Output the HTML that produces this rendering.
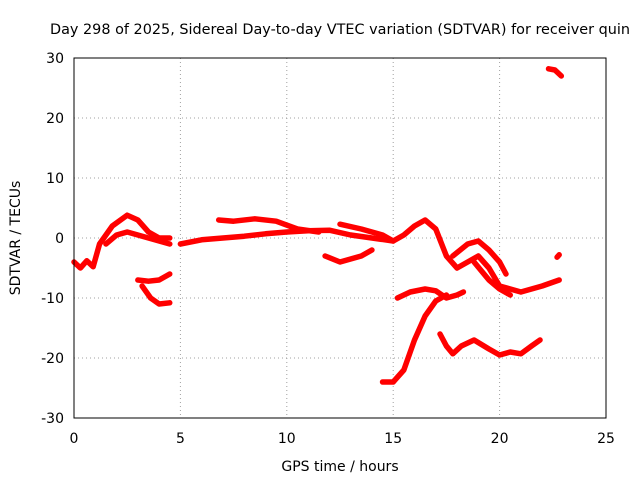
<!DOCTYPE html>
<html><head><meta charset="utf-8"><style>
body{margin:0;background:#fff;}
svg{display:block;font-family:"DejaVu Sans","Liberation Sans",sans-serif;}
</style></head><body>
<svg id="chart" width="640" height="480">
<text x="340" y="34" font-size="14" text-anchor="middle" textLength="580" lengthAdjust="spacingAndGlyphs">Day 298 of 2025, Sidereal Day-to-day VTEC variation (SDTVAR) for receiver quin</text>
<text x="340" y="471" font-size="14" text-anchor="middle">GPS time / hours</text>
<text transform="translate(20,238) rotate(-90)" font-size="14" text-anchor="middle">SDTVAR / TECUs</text>
<g id="grid"></g><g id="ticks"></g><g id="marks"></g>
<rect x="74" y="58" width="532" height="360" fill="none" stroke="#000" stroke-width="1"/>
</svg>
<script>
const xTicks=[0,5,10,15,20,25];
const yTicks=[-30,-20,-10,0,10,20,30];
const trackA1=[[0,-4],[0.3,-5],[0.6,-3.8],[0.9,-4.8],[1.2,-1],[1.8,2],[2.5,3.8],[3,3],[3.5,1],[4,0],[4.5,0]];
const trackA2=[[1.5,-1],[2,0.5],[2.5,1],[3,0.5],[3.5,0],[4,-0.5],[4.5,-1]];
const trackB=[[3,-7],[3.5,-7.2],[4,-7],[4.5,-6]];
const trackC=[[3.2,-8],[3.6,-10],[4,-11],[4.5,-10.8]];
const trackD=[[5,-1],[6,-0.3],[7,0],[8,0.3],[9,0.7],[10,1],[11,1.2],[12,1.3],[13,0.5],[14,0],[15,-0.5],[15.5,0.5],[16,2],[16.5,3],[17,1.5],[17.5,-3],[18,-5],[18.5,-4],[19,-3],[19.5,-5],[20,-8],[21,-9],[22,-8],[22.8,-7]];
const trackE=[[6.8,3],[7.5,2.8],[8.5,3.2],[9.5,2.8],[10.5,1.5],[11.5,1]];
const trackF=[[11.8,-3],[12.5,-4],[13.5,-3],[14,-2]];
const trackG=[[12.5,2.3],[13.5,1.5],[14.5,0.5],[15,-0.5]];
const trackL=[[17.8,-3],[18.5,-1],[19,-0.5],[19.5,-2],[20,-4],[20.3,-6]];
const trackM=[[18.8,-4],[19.5,-7],[20,-8.5],[20.5,-9.5]];
const trackH=[[15.2,-10],[15.8,-9],[16.5,-8.5],[17,-8.8],[17.5,-10],[18,-9.5],[18.3,-9]];
const trackI=[[14.5,-24],[15,-24],[15.5,-22],[16,-17],[16.5,-13],[17,-10.5],[17.5,-9.5]];
const trackJ=[[17.2,-16],[17.5,-18],[17.8,-19.3],[18.2,-18],[18.8,-17],[19.5,-18.5],[20,-19.5],[20.5,-19],[21,-19.3],[21.5,-18],[21.9,-17]];
const trackK=[[22.3,28.2],[22.6,28],[22.9,27]];
const trackP=[[22.7,-3.2],[22.8,-2.8]];
const tracks=[trackA1,trackA2,trackB,trackC,trackD,trackE,trackF,trackG,trackL,trackM,trackH,trackI,trackJ,trackK,trackP];
const X=v=>74+v*532/25, Y=v=>238-v*6;
const ns="http://www.w3.org/2000/svg";
const grid=document.getElementById('grid'),ticks=document.getElementById('ticks'),marks=document.getElementById('marks');
function mk(t,a,p){const e=document.createElementNS(ns,t);for(const k in a)e.setAttribute(k,a[k]);p.appendChild(e);return e;}
xTicks.forEach(v=>{
 if(v>0&&v<25){const g=mk('line',{x1:X(v),x2:X(v),y1:58,y2:418,stroke:'#a0a0a0','stroke-dasharray':'1,3'},grid);
 
 }
 const t=mk('text',{x:X(v),y:443,'font-size':14,'text-anchor':'middle'},ticks);t.textContent=v;
 
 
});
yTicks.forEach(v=>{
 if(v>-30&&v<30){const g=mk('line',{x1:74,x2:606,y1:Y(v),y2:Y(v),stroke:'#a0a0a0','stroke-dasharray':'1,3'},grid);
 
 }
 const t=mk('text',{x:64,y:Y(v)+5,'font-size':14,'text-anchor':'end'},ticks);t.textContent=v;
 
 
});
tracks.forEach(tr=>{
 const p=mk('polyline',{points:tr.map(d=>X(d[0])+','+Y(d[1])).join(' '),fill:'none',stroke:'#ff0000','stroke-width':5.5,'stroke-linejoin':'round','stroke-linecap':'round'},marks);
 
 
});
</script>
</body></html>
